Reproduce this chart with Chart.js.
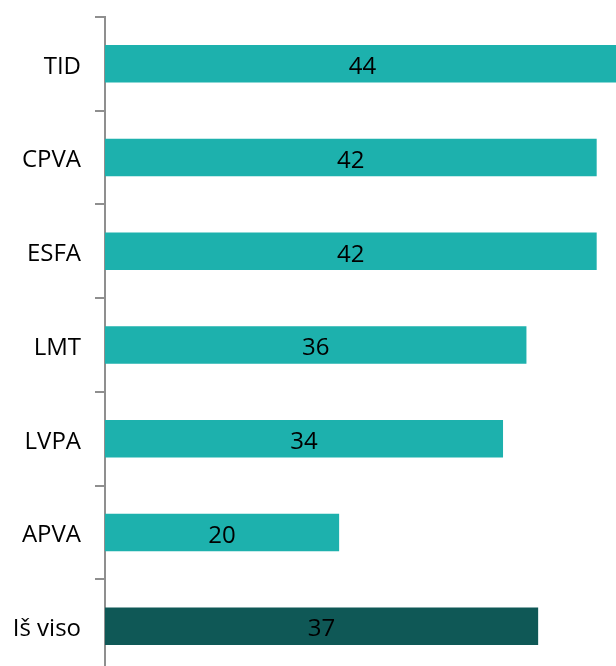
<!DOCTYPE html>
<html><head><meta charset="utf-8">
<script src="https://cdn.jsdelivr.net/npm/chart.js@4/dist/chart.umd.min.js"></script>
<style>html,body{margin:0;padding:0;background:#fff;overflow:hidden}#wrap{width:616px;height:673px;position:relative}</style>
</head><body><div id="wrap"><canvas id="c"></canvas></div>
<script>
const categories = ["TID","CPVA","ESFA","LMT","LVPA","APVA","Iš viso"];
const values = [44,42,42,36,34,20,37];
const barColors = ["#1DB1AD","#1DB1AD","#1DB1AD","#1DB1AD","#1DB1AD","#1DB1AD","#0F5856"];
const FONT = "'Open Sans', sans-serif";

const centerLabels = {
  id:'centerLabels',
  afterDatasetsDraw(chart){
    const ctx = chart.ctx;
    const meta = chart.getDatasetMeta(0);
    ctx.save();
    ctx.fillStyle = '#000';
    ctx.font = '24px ' + FONT;
    ctx.textAlign = 'center';
    ctx.textBaseline = 'middle';
    meta.data.forEach((bar,i)=>{
      const x = (bar.x + bar.base)/2;
      ctx.fillText(String(values[i]), x, bar.y + 3.5);
    });
    ctx.restore();
  }
};

new Chart(document.getElementById('c'), {
  type:'bar',
  data:{labels:categories, datasets:[{data:values, backgroundColor:barColors, borderWidth:0, categoryPercentage:0.4, barPercentage:1}]},
  options:{
    indexAxis:'y', responsive:true, maintainAspectRatio:false, animation:false,
    layout:{padding:{top:17,right:0,bottom:0,left:0}},
    plugins:{legend:{display:false}, tooltip:{enabled:false}},
    scales:{
      x:{display:false, min:0, max:43.65},
      y:{
        afterFit(s){ s.width = 105; s.paddingTop = 0; s.paddingBottom = 0; },
        grid:{display:true, drawOnChartArea:false, drawTicks:true, tickLength:10, color:'#8f8f8f', lineWidth:2, offset:true},
        border:{display:true, color:'#8f8f8f', width:2},
        ticks:{color:'#000', font:{family:FONT, size:24}, padding:14, labelOffset:3}
      }
    }
  },
  plugins:[centerLabels]
});
</script></body></html>
